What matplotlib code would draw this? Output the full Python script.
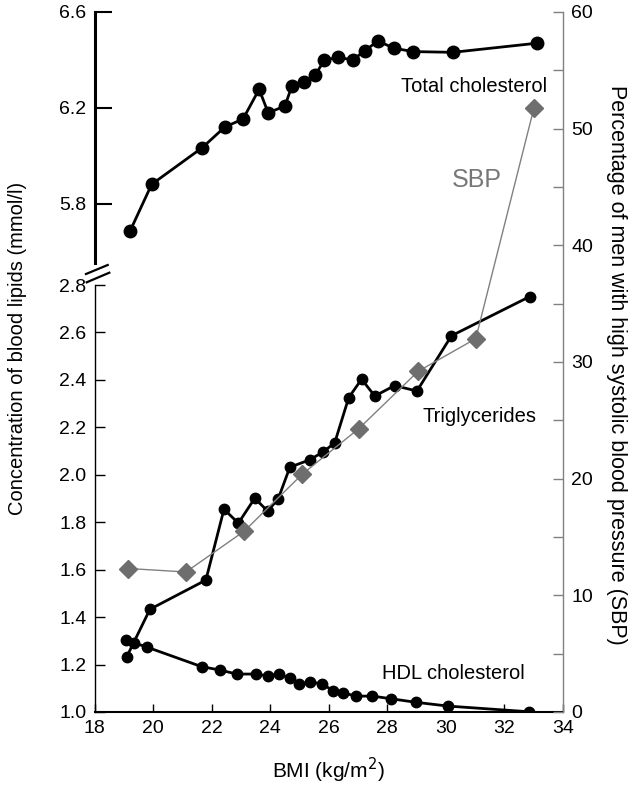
import numpy as np
import matplotlib
matplotlib.use("Agg")
import matplotlib.pyplot as plt
from matplotlib.lines import Line2D

plt.rcParams['font.family'] = ['Liberation Sans', 'DejaVu Sans']
plt.rcParams['font.size'] = 14

# === Dados ===
bmi_tc = [19.21, 19.95, 21.68, 22.45, 23.07, 23.62, 23.93, 24.50, 24.74, 25.14,
          25.53, 25.85, 26.33, 26.82, 27.23, 27.68, 28.23, 28.88, 30.24, 33.11]
tc = [5.687, 5.882, 6.035, 6.121, 6.154, 6.278, 6.180, 6.208, 6.292, 6.308,
      6.336, 6.400, 6.411, 6.400, 6.439, 6.479, 6.449, 6.435, 6.432, 6.470]

bmi_tg = [19.10, 19.89, 21.80, 22.42, 22.91, 23.47, 23.91, 24.27, 24.67, 25.35,
          25.80, 26.20, 26.68, 27.12, 27.57, 28.25, 29.01, 30.19, 32.86]
tg = [1.233, 1.433, 1.556, 1.855, 1.796, 1.901, 1.847, 1.898, 2.032, 2.063,
      2.096, 2.134, 2.325, 2.403, 2.332, 2.376, 2.353, 2.586, 2.751]

bmi_hdl = [19.07, 19.34, 19.80, 21.66, 22.28, 22.85, 23.51, 23.93, 24.30, 24.67,
           24.99, 25.35, 25.78, 26.15, 26.49, 26.92, 27.49, 28.12, 28.97, 30.07, 32.84]
hdl = [1.304, 1.292, 1.273, 1.191, 1.177, 1.160, 1.160, 1.152, 1.160, 1.142,
       1.117, 1.128, 1.117, 1.090, 1.081, 1.067, 1.067, 1.056, 1.041, 1.025, 1.001]

bmi_sbp = [19.15, 21.12, 23.11, 25.10, 27.03, 29.05, 31.02, 33.01]
sbp = [12.3, 12.0, 15.5, 20.4, 24.3, 29.2, 32.0, 51.8]

x_ticks = [18, 20, 22, 24, 26, 28, 30, 32, 34]
y_low_ticks = [1.0, 1.2, 1.4, 1.6, 1.8, 2.0, 2.2, 2.4, 2.6, 2.8]
y_top_ticks = [5.8, 6.2, 6.6]
y_right_ticks = [0, 10, 20, 30, 40, 50, 60]

W, H = 641, 786
fig = plt.figure(figsize=(W / 100, H / 100), dpi=100)

def box(x0, y0, x1, y1):
    # caixa em pixels (origem no topo) -> coordenadas da figura
    return [x0 / W, 1 - y1 / H, (x1 - x0) / W, (y1 - y0) / H]

gray = '#808080'

# === Painel inferior (TG e HDL) ===
ax = fig.add_axes(box(94.6, 285, 563, 712))
ax.patch.set_visible(False)
ax.plot(bmi_tg, tg, '-o', color='black', lw=2, ms=7.5, zorder=3)
ax.plot(bmi_hdl, hdl, '-o', color='black', lw=2, ms=7.5, zorder=3)
ax.set_xlim(18, 34)
ax.set_ylim(1.0, 2.8)
ax.set_xticks(x_ticks)
ax.set_yticks(y_low_ticks)
ax.set_yticklabels([f"{v:.1f}" for v in y_low_ticks])
ax.spines['top'].set_visible(False)
ax.spines['right'].set_visible(False)
ax.spines['left'].set_linewidth(1.0)
ax.spines['bottom'].set_linewidth(1.5)
ax.tick_params(axis='y', direction='in', length=7, width=1, labelsize=14, pad=6)
ax.tick_params(axis='x', direction='in', length=6, width=1, labelsize=14, pad=6)
ax.text(33.1, 2.244, "Triglycerides", ha='right', va='center', fontsize=14.5)
ax.text(32.69, 1.164, "HDL cholesterol", ha='right', va='center', fontsize=14.5)

# === Painel superior (colesterol total) ===
ax_top = fig.add_axes(box(94.6, 12, 563, 263))
ax_top.patch.set_visible(False)
ax_top.plot(bmi_tc, tc, '-o', color='black', lw=2, ms=9, zorder=3)
ax_top.set_xlim(18, 34)
ax_top.set_ylim(6.6 - 251 / 240, 6.6)
ax_top.set_yticks(y_top_ticks)
ax_top.set_yticklabels([f"{v:.1f}" for v in y_top_ticks])
ax_top.set_xticks([])
for s in ['top', 'right', 'bottom']:
    ax_top.spines[s].set_visible(False)
ax_top.spines['left'].set_linewidth(2.2)
ax_top.tick_params(axis='y', direction='in', length=12, width=1.5, labelsize=14, pad=6)
ax_top.text(33.47, 6.2875, "Total cholesterol", ha='right', va='center', fontsize=14.5)

# === Eixo direito (SBP) ===
ax_r = fig.add_axes(box(94.6, 12, 563, 712))
ax_r.patch.set_visible(False)
ax_r.plot(bmi_sbp, sbp, '-D', color=gray, mfc='#6e6e6e', mec='#6e6e6e', lw=1, ms=9, zorder=4)
ax_r.set_xlim(18, 34)
ax_r.set_ylim(0, 60)
ax_r.set_xticks([])
ax_r.yaxis.tick_right()
ax_r.set_yticks(y_right_ticks)
ax_r.set_yticks(np.arange(5, 60, 10), minor=True)
for s in ['top', 'left', 'bottom']:
    ax_r.spines[s].set_visible(False)
ax_r.spines['right'].set_color(gray)
ax_r.spines['right'].set_linewidth(1.0)
ax_r.tick_params(axis='y', which='both', direction='in', length=7, width=1,
                 color=gray, labelsize=14, pad=6)
ax_r.text(31.07, 45.6, "SBP", ha='center', va='center', fontsize=18, color='#777777')

# === Rotulos dos eixos ===
fig.text(18 / W, 1 - 348 / H, "Concentration of blood lipids (mmol/l)",
         rotation=90, ha='center', va='center', fontsize=14.5)
fig.text(617 / W, 1 - 365 / H, "Percentage of men with high systolic blood pressure (SBP)",
         rotation=-90, ha='center', va='center', fontsize=15.5)
fig.text(328 / W, 1 - 770 / H, "BMI (kg/m$^2$)", ha='center', va='center', fontsize=15)

# === Marcas de quebra do eixo ===
for (x0, y0, x1, y1) in [(86, 274, 107.7, 265), (86.7, 282.3, 109.3, 272.7)]:
    fig.add_artist(Line2D([x0 / W, x1 / W], [1 - y0 / H, 1 - y1 / H],
                          color='black', lw=1.6, transform=fig.transFigure))

fig.savefig("out.png", dpi=100)
